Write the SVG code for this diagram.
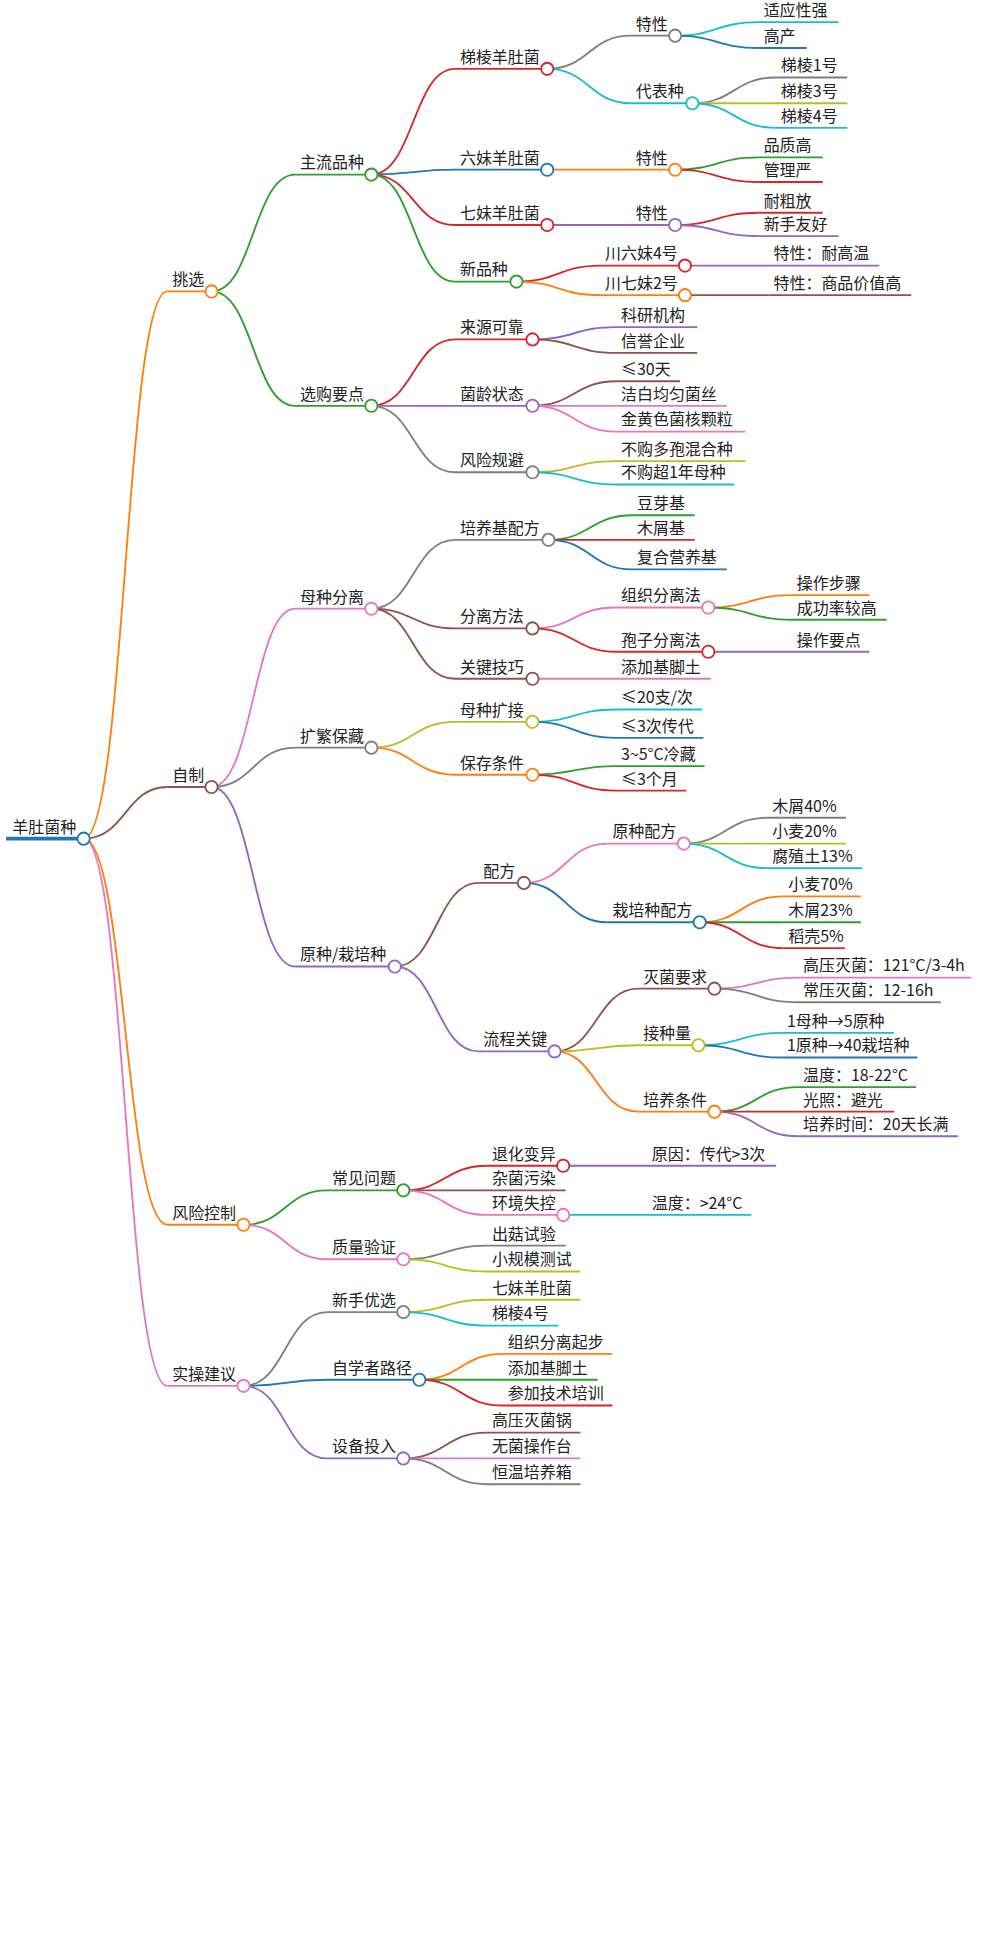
<svg xmlns="http://www.w3.org/2000/svg" width="984" height="1940" viewBox="0 0 984 1940">
<style>
text{font-family:"Noto Sans CJK SC","Noto Sans",sans-serif;font-size:13px;fill:#222}
path,line{fill:none;stroke-width:1.5}
circle{fill:#fff;stroke-width:1.5}
.c0{stroke:#1f77b4}.c1{stroke:#ff7f0e}.c2{stroke:#2ca02c}.c3{stroke:#d62728}.c4{stroke:#9467bd}.c5{stroke:#8c564b}.c6{stroke:#e377c2}.c7{stroke:#7f7f7f}.c8{stroke:#bcbd22}.c9{stroke:#17becf}
</style>
<rect width="984" height="1940" fill="#fff"/>
<g transform="scale(1.2297)">
<g id="connectors">
<path class="c1" d="M68 682C102 682 102 237 136 237"/>
<path class="c5" d="M68 682C102 682 102 640 136 640"/>
<path class="c1" d="M68 682C102 682 102 996 136 996"/>
<path class="c6" d="M68 682C102 682 102 1127 136 1127"/>
<path class="c2" d="M172 237C206 237 206 142 240 142"/>
<path class="c2" d="M172 237C206 237 206 330 240 330"/>
<path class="c6" d="M172 640C206 640 206 495 240 495"/>
<path class="c7" d="M172 640C206 640 206 608 240 608"/>
<path class="c4" d="M172 640C206 640 206 786 240 786"/>
<path class="c2" d="M198 996C232 996 232 968 266 968"/>
<path class="c6" d="M198 996C232 996 232 1024 266 1024"/>
<path class="c7" d="M198 1127C232 1127 232 1067 266 1067"/>
<path class="c0" d="M198 1127C232 1127 232 1122 266 1122"/>
<path class="c4" d="M198 1127C232 1127 232 1186 266 1186"/>
<path class="c3" d="M302 142C336 142 336 56 370 56"/>
<path class="c0" d="M302 142C336 142 336 138 370 138"/>
<path class="c3" d="M302 142C336 142 336 183 370 183"/>
<path class="c2" d="M302 142C336 142 336 229 370 229"/>
<path class="c3" d="M302 330C336 330 336 276 370 276"/>
<path class="c4" d="M302 330C336 330 336 330 370 330"/>
<path class="c7" d="M302 330C336 330 336 384 370 384"/>
<path class="c7" d="M302 495C336 495 336 439 370 439"/>
<path class="c5" d="M302 495C336 495 336 511 370 511"/>
<path class="c5" d="M302 495C336 495 336 552 370 552"/>
<path class="c8" d="M302 608C336 608 336 587 370 587"/>
<path class="c1" d="M302 608C336 608 336 630 370 630"/>
<path class="c5" d="M321 786C355 786 355 718 389 718"/>
<path class="c4" d="M321 786C355 786 355 855 389 855"/>
<path class="c3" d="M328 968C362 968 362 948 396 948"/>
<path class="c5" d="M328 968C362 968 362 968 396 968"/>
<path class="c6" d="M328 968C362 968 362 988 396 988"/>
<path class="c7" d="M328 1024C362 1024 362 1013 396 1013"/>
<path class="c8" d="M328 1024C362 1024 362 1034 396 1034"/>
<path class="c8" d="M328 1067C362 1067 362 1057 396 1057"/>
<path class="c9" d="M328 1067C362 1067 362 1078 396 1078"/>
<path class="c1" d="M341 1122C375 1122 375 1101 409 1101"/>
<path class="c2" d="M341 1122C375 1122 375 1122 409 1122"/>
<path class="c3" d="M341 1122C375 1122 375 1143 409 1143"/>
<path class="c5" d="M328 1186C362 1186 362 1165 396 1165"/>
<path class="c6" d="M328 1186C362 1186 362 1186 396 1186"/>
<path class="c7" d="M328 1186C362 1186 362 1207 396 1207"/>
<path class="c7" d="M445 56C479 56 479 29 513 29"/>
<path class="c9" d="M445 56C479 56 479 84 513 84"/>
<path class="c1" d="M445 138C479 138 479 138 513 138"/>
<path class="c4" d="M445 183C479 183 479 183 513 183"/>
<path class="c3" d="M420 229C454 229 454 216 488 216"/>
<path class="c1" d="M420 229C454 229 454 240 488 240"/>
<path class="c4" d="M433 276C467 276 467 266 501 266"/>
<path class="c5" d="M433 276C467 276 467 287 501 287"/>
<path class="c5" d="M433 330C467 330 467 310 501 310"/>
<path class="c6" d="M433 330C467 330 467 330 501 330"/>
<path class="c6" d="M433 330C467 330 467 351 501 351"/>
<path class="c8" d="M433 384C467 384 467 375 501 375"/>
<path class="c9" d="M433 384C467 384 467 394 501 394"/>
<path class="c2" d="M446 439C480 439 480 419 514 419"/>
<path class="c3" d="M446 439C480 439 480 439 514 439"/>
<path class="c0" d="M446 439C480 439 480 463 514 463"/>
<path class="c6" d="M433 511C467 511 467 494 501 494"/>
<path class="c3" d="M433 511C467 511 467 530 501 530"/>
<path class="c6" d="M433 552C467 552 467 552 501 552"/>
<path class="c9" d="M433 587C467 587 467 577 501 577"/>
<path class="c0" d="M433 587C467 587 467 600 501 600"/>
<path class="c2" d="M433 630C467 630 467 623 501 623"/>
<path class="c3" d="M433 630C467 630 467 643 501 643"/>
<path class="c6" d="M426 718C460 718 460 686 494 686"/>
<path class="c0" d="M426 718C460 718 460 750 494 750"/>
<path class="c5" d="M451 855C485 855 485 804 519 804"/>
<path class="c8" d="M451 855C485 855 485 850 519 850"/>
<path class="c1" d="M451 855C485 855 485 904 519 904"/>
<path class="c4" d="M458 948C492 948 492 948 526 948"/>
<path class="c9" d="M458 988C492 988 492 988 526 988"/>
<path class="c9" d="M549 29C583 29 583 18 617 18"/>
<path class="c0" d="M549 29C583 29 583 39 617 39"/>
<path class="c7" d="M563 84C597 84 597 63 631 63"/>
<path class="c8" d="M563 84C597 84 597 84 631 84"/>
<path class="c9" d="M563 84C597 84 597 104 631 104"/>
<path class="c2" d="M549 138C583 138 583 128 617 128"/>
<path class="c3" d="M549 138C583 138 583 148 617 148"/>
<path class="c3" d="M549 183C583 183 583 173 617 173"/>
<path class="c4" d="M549 183C583 183 583 192 617 192"/>
<path class="c4" d="M557 216C591 216 591 216 625 216"/>
<path class="c5" d="M557 240C591 240 591 240 625 240"/>
<path class="c1" d="M576 494C610 494 610 484 644 484"/>
<path class="c2" d="M576 494C610 494 610 504 644 504"/>
<path class="c4" d="M576 530C610 530 610 530 644 530"/>
<path class="c7" d="M556 686C590 686 590 665 624 665"/>
<path class="c8" d="M556 686C590 686 590 686 624 686"/>
<path class="c9" d="M556 686C590 686 590 706 624 706"/>
<path class="c1" d="M569 750C603 750 603 729 637 729"/>
<path class="c2" d="M569 750C603 750 603 750 637 750"/>
<path class="c3" d="M569 750C603 750 603 771 637 771"/>
<path class="c6" d="M581 804C615 804 615 795 649 795"/>
<path class="c7" d="M581 804C615 804 615 815 649 815"/>
<path class="c9" d="M568 850C602 850 602 840 636 840"/>
<path class="c0" d="M568 850C602 850 602 860 636 860"/>
<path class="c2" d="M581 904C615 904 615 884 649 884"/>
<path class="c3" d="M581 904C615 904 615 904 649 904"/>
<path class="c4" d="M581 904C615 904 615 924 649 924"/>
</g>
<g id="root"><line class="c0" style="stroke-width:3" x1="5" y1="682" x2="63" y2="682"/><text x="10" y="677">羊肚菌种</text><circle class="c0" cx="68" cy="682" r="5"/></g>
<g id="n1"><line class="c1" x1="136" y1="237" x2="167" y2="237"/><text x="140" y="232">挑选</text><circle class="c1" cx="172" cy="237" r="5"/></g>
<g id="n2"><line class="c5" x1="136" y1="640" x2="167" y2="640"/><text x="140" y="635">自制</text><circle class="c5" cx="172" cy="640" r="5"/></g>
<g id="n3"><line class="c1" x1="136" y1="996" x2="193" y2="996"/><text x="140" y="991">风险控制</text><circle class="c1" cx="198" cy="996" r="5"/></g>
<g id="n4"><line class="c6" x1="136" y1="1127" x2="193" y2="1127"/><text x="140" y="1122">实操建议</text><circle class="c6" cx="198" cy="1127" r="5"/></g>
<g id="n5"><line class="c2" x1="240" y1="142" x2="297" y2="142"/><text x="244" y="137">主流品种</text><circle class="c2" cx="302" cy="142" r="5"/></g>
<g id="n6"><line class="c2" x1="240" y1="330" x2="297" y2="330"/><text x="244" y="325">选购要点</text><circle class="c2" cx="302" cy="330" r="5"/></g>
<g id="n7"><line class="c6" x1="240" y1="495" x2="297" y2="495"/><text x="244" y="490">母种分离</text><circle class="c6" cx="302" cy="495" r="5"/></g>
<g id="n8"><line class="c7" x1="240" y1="608" x2="297" y2="608"/><text x="244" y="603">扩繁保藏</text><circle class="c7" cx="302" cy="608" r="5"/></g>
<g id="n9"><line class="c4" x1="240" y1="786" x2="316" y2="786"/><text x="244" y="781">原种/栽培种</text><circle class="c4" cx="321" cy="786" r="5"/></g>
<g id="n10"><line class="c2" x1="266" y1="968" x2="323" y2="968"/><text x="270" y="963">常见问题</text><circle class="c2" cx="328" cy="968" r="5"/></g>
<g id="n11"><line class="c6" x1="266" y1="1024" x2="323" y2="1024"/><text x="270" y="1019">质量验证</text><circle class="c6" cx="328" cy="1024" r="5"/></g>
<g id="n12"><line class="c7" x1="266" y1="1067" x2="323" y2="1067"/><text x="270" y="1062">新手优选</text><circle class="c7" cx="328" cy="1067" r="5"/></g>
<g id="n13"><line class="c0" x1="266" y1="1122" x2="336" y2="1122"/><text x="270" y="1117">自学者路径</text><circle class="c0" cx="341" cy="1122" r="5"/></g>
<g id="n14"><line class="c4" x1="266" y1="1186" x2="323" y2="1186"/><text x="270" y="1181">设备投入</text><circle class="c4" cx="328" cy="1186" r="5"/></g>
<g id="n15"><line class="c3" x1="370" y1="56" x2="440" y2="56"/><text x="374" y="51">梯棱羊肚菌</text><circle class="c3" cx="445" cy="56" r="5"/></g>
<g id="n16"><line class="c0" x1="370" y1="138" x2="440" y2="138"/><text x="374" y="133">六妹羊肚菌</text><circle class="c0" cx="445" cy="138" r="5"/></g>
<g id="n17"><line class="c3" x1="370" y1="183" x2="440" y2="183"/><text x="374" y="178">七妹羊肚菌</text><circle class="c3" cx="445" cy="183" r="5"/></g>
<g id="n18"><line class="c2" x1="370" y1="229" x2="415" y2="229"/><text x="374" y="224">新品种</text><circle class="c2" cx="420" cy="229" r="5"/></g>
<g id="n19"><line class="c3" x1="370" y1="276" x2="428" y2="276"/><text x="374" y="271">来源可靠</text><circle class="c3" cx="433" cy="276" r="5"/></g>
<g id="n20"><line class="c4" x1="370" y1="330" x2="428" y2="330"/><text x="374" y="325">菌龄状态</text><circle class="c4" cx="433" cy="330" r="5"/></g>
<g id="n21"><line class="c7" x1="370" y1="384" x2="428" y2="384"/><text x="374" y="379">风险规避</text><circle class="c7" cx="433" cy="384" r="5"/></g>
<g id="n22"><line class="c7" x1="370" y1="439" x2="441" y2="439"/><text x="374" y="434">培养基配方</text><circle class="c7" cx="446" cy="439" r="5"/></g>
<g id="n23"><line class="c5" x1="370" y1="511" x2="428" y2="511"/><text x="374" y="506">分离方法</text><circle class="c5" cx="433" cy="511" r="5"/></g>
<g id="n24"><line class="c5" x1="370" y1="552" x2="428" y2="552"/><text x="374" y="547">关键技巧</text><circle class="c5" cx="433" cy="552" r="5"/></g>
<g id="n25"><line class="c8" x1="370" y1="587" x2="428" y2="587"/><text x="374" y="582">母种扩接</text><circle class="c8" cx="433" cy="587" r="5"/></g>
<g id="n26"><line class="c1" x1="370" y1="630" x2="428" y2="630"/><text x="374" y="625">保存条件</text><circle class="c1" cx="433" cy="630" r="5"/></g>
<g id="n27"><line class="c5" x1="389" y1="718" x2="421" y2="718"/><text x="393" y="713">配方</text><circle class="c5" cx="426" cy="718" r="5"/></g>
<g id="n28"><line class="c4" x1="389" y1="855" x2="446" y2="855"/><text x="393" y="850">流程关键</text><circle class="c4" cx="451" cy="855" r="5"/></g>
<g id="n29"><line class="c3" x1="396" y1="948" x2="453" y2="948"/><text x="400" y="943">退化变异</text><circle class="c3" cx="458" cy="948" r="5"/></g>
<g id="n30"><line class="c5" x1="396" y1="968" x2="460" y2="968"/><text x="400" y="963">杂菌污染</text></g>
<g id="n31"><line class="c6" x1="396" y1="988" x2="453" y2="988"/><text x="400" y="983">环境失控</text><circle class="c6" cx="458" cy="988" r="5"/></g>
<g id="n32"><line class="c7" x1="396" y1="1013" x2="460" y2="1013"/><text x="400" y="1008">出菇试验</text></g>
<g id="n33"><line class="c8" x1="396" y1="1034" x2="472" y2="1034"/><text x="400" y="1029">小规模测试</text></g>
<g id="n34"><line class="c8" x1="396" y1="1057" x2="472" y2="1057"/><text x="400" y="1052">七妹羊肚菌</text></g>
<g id="n35"><line class="c9" x1="396" y1="1078" x2="454" y2="1078"/><text x="400" y="1073">梯棱4号</text></g>
<g id="n36"><line class="c1" x1="409" y1="1101" x2="498" y2="1101"/><text x="413" y="1096">组织分离起步</text></g>
<g id="n37"><line class="c2" x1="409" y1="1122" x2="486" y2="1122"/><text x="413" y="1117">添加基脚土</text></g>
<g id="n38"><line class="c3" x1="409" y1="1143" x2="498" y2="1143"/><text x="413" y="1138">参加技术培训</text></g>
<g id="n39"><line class="c5" x1="396" y1="1165" x2="472" y2="1165"/><text x="400" y="1160">高压灭菌锅</text></g>
<g id="n40"><line class="c6" x1="396" y1="1186" x2="472" y2="1186"/><text x="400" y="1181">无菌操作台</text></g>
<g id="n41"><line class="c7" x1="396" y1="1207" x2="472" y2="1207"/><text x="400" y="1202">恒温培养箱</text></g>
<g id="n42"><line class="c7" x1="513" y1="29" x2="544" y2="29"/><text x="517" y="24">特性</text><circle class="c7" cx="549" cy="29" r="5"/></g>
<g id="n43"><line class="c9" x1="513" y1="84" x2="558" y2="84"/><text x="517" y="79">代表种</text><circle class="c9" cx="563" cy="84" r="5"/></g>
<g id="n44"><line class="c1" x1="513" y1="138" x2="544" y2="138"/><text x="517" y="133">特性</text><circle class="c1" cx="549" cy="138" r="5"/></g>
<g id="n45"><line class="c4" x1="513" y1="183" x2="544" y2="183"/><text x="517" y="178">特性</text><circle class="c4" cx="549" cy="183" r="5"/></g>
<g id="n46"><line class="c3" x1="488" y1="216" x2="552" y2="216"/><text x="492" y="211">川六妹4号</text><circle class="c3" cx="557" cy="216" r="5"/></g>
<g id="n47"><line class="c1" x1="488" y1="240" x2="552" y2="240"/><text x="492" y="235">川七妹2号</text><circle class="c1" cx="557" cy="240" r="5"/></g>
<g id="n48"><line class="c4" x1="501" y1="266" x2="567" y2="266"/><text x="505" y="261">科研机构</text></g>
<g id="n49"><line class="c5" x1="501" y1="287" x2="567" y2="287"/><text x="505" y="282">信誉企业</text></g>
<g id="n50"><line class="c5" x1="501" y1="310" x2="553" y2="310"/><text x="505" y="305">≤30天</text></g>
<g id="n51"><line class="c6" x1="501" y1="330" x2="591" y2="330"/><text x="505" y="325">洁白均匀菌丝</text></g>
<g id="n52"><line class="c6" x1="501" y1="351" x2="606" y2="351"/><text x="505" y="346">金黄色菌核颗粒</text></g>
<g id="n53"><line class="c8" x1="501" y1="375" x2="606" y2="375"/><text x="505" y="370">不购多孢混合种</text></g>
<g id="n54"><line class="c9" x1="501" y1="394" x2="597" y2="394"/><text x="505" y="389">不购超1年母种</text></g>
<g id="n55"><line class="c2" x1="514" y1="419" x2="565" y2="419"/><text x="518" y="414">豆芽基</text></g>
<g id="n56"><line class="c3" x1="514" y1="439" x2="565" y2="439"/><text x="518" y="434">木屑基</text></g>
<g id="n57"><line class="c0" x1="514" y1="463" x2="591" y2="463"/><text x="518" y="458">复合营养基</text></g>
<g id="n58"><line class="c6" x1="501" y1="494" x2="571" y2="494"/><text x="505" y="489">组织分离法</text><circle class="c6" cx="576" cy="494" r="5"/></g>
<g id="n59"><line class="c3" x1="501" y1="530" x2="571" y2="530"/><text x="505" y="525">孢子分离法</text><circle class="c3" cx="576" cy="530" r="5"/></g>
<g id="n60"><line class="c6" x1="501" y1="552" x2="578" y2="552"/><text x="505" y="547">添加基脚土</text></g>
<g id="n61"><line class="c9" x1="501" y1="577" x2="571" y2="577"/><text x="505" y="572">≤20支/次</text></g>
<g id="n62"><line class="c0" x1="501" y1="600" x2="572" y2="600"/><text x="505" y="595">≤3次传代</text></g>
<g id="n63"><line class="c2" x1="501" y1="623" x2="573" y2="623"/><text x="505" y="618">3~5°C冷藏</text></g>
<g id="n64"><line class="c3" x1="501" y1="643" x2="558" y2="643"/><text x="505" y="638">≤3个月</text></g>
<g id="n65"><line class="c6" x1="494" y1="686" x2="551" y2="686"/><text x="498" y="681">原种配方</text><circle class="c6" cx="556" cy="686" r="5"/></g>
<g id="n66"><line class="c0" x1="494" y1="750" x2="564" y2="750"/><text x="498" y="745">栽培种配方</text><circle class="c0" cx="569" cy="750" r="5"/></g>
<g id="n67"><line class="c5" x1="519" y1="804" x2="576" y2="804"/><text x="523" y="799">灭菌要求</text><circle class="c5" cx="581" cy="804" r="5"/></g>
<g id="n68"><line class="c8" x1="519" y1="850" x2="563" y2="850"/><text x="523" y="845">接种量</text><circle class="c8" cx="568" cy="850" r="5"/></g>
<g id="n69"><line class="c1" x1="519" y1="904" x2="576" y2="904"/><text x="523" y="899">培养条件</text><circle class="c1" cx="581" cy="904" r="5"/></g>
<g id="n70"><line class="c4" x1="526" y1="948" x2="631" y2="948"/><text x="530" y="943">原因：传代&gt;3次</text></g>
<g id="n71"><line class="c9" x1="526" y1="988" x2="611" y2="988"/><text x="530" y="983">温度：&gt;24°C</text></g>
<g id="n72"><line class="c9" x1="617" y1="18" x2="682" y2="18"/><text x="621" y="13">适应性强</text></g>
<g id="n73"><line class="c0" x1="617" y1="39" x2="656" y2="39"/><text x="621" y="34">高产</text></g>
<g id="n74"><line class="c7" x1="631" y1="63" x2="689" y2="63"/><text x="635" y="58">梯棱1号</text></g>
<g id="n75"><line class="c8" x1="631" y1="84" x2="689" y2="84"/><text x="635" y="79">梯棱3号</text></g>
<g id="n76"><line class="c9" x1="631" y1="104" x2="689" y2="104"/><text x="635" y="99">梯棱4号</text></g>
<g id="n77"><line class="c2" x1="617" y1="128" x2="669" y2="128"/><text x="621" y="123">品质高</text></g>
<g id="n78"><line class="c3" x1="617" y1="148" x2="669" y2="148"/><text x="621" y="143">管理严</text></g>
<g id="n79"><line class="c3" x1="617" y1="173" x2="669" y2="173"/><text x="621" y="168">耐粗放</text></g>
<g id="n80"><line class="c4" x1="617" y1="192" x2="682" y2="192"/><text x="621" y="187">新手友好</text></g>
<g id="n81"><line class="c4" x1="625" y1="216" x2="715" y2="216"/><text x="629" y="211">特性：耐高温</text></g>
<g id="n82"><line class="c5" x1="625" y1="240" x2="741" y2="240"/><text x="629" y="235">特性：商品价值高</text></g>
<g id="n83"><line class="c1" x1="644" y1="484" x2="707" y2="484"/><text x="648" y="479">操作步骤</text></g>
<g id="n84"><line class="c2" x1="644" y1="504" x2="721" y2="504"/><text x="648" y="499">成功率较高</text></g>
<g id="n85"><line class="c4" x1="644" y1="530" x2="707" y2="530"/><text x="648" y="525">操作要点</text></g>
<g id="n86"><line class="c7" x1="624" y1="665" x2="688" y2="665"/><text x="628" y="660">木屑40%</text></g>
<g id="n87"><line class="c8" x1="624" y1="686" x2="688" y2="686"/><text x="628" y="681">小麦20%</text></g>
<g id="n88"><line class="c9" x1="624" y1="706" x2="701" y2="706"/><text x="628" y="701">腐殖土13%</text></g>
<g id="n89"><line class="c1" x1="637" y1="729" x2="700" y2="729"/><text x="641" y="724">小麦70%</text></g>
<g id="n90"><line class="c2" x1="637" y1="750" x2="700" y2="750"/><text x="641" y="745">木屑23%</text></g>
<g id="n91"><line class="c3" x1="637" y1="771" x2="687" y2="771"/><text x="641" y="766">稻壳5%</text></g>
<g id="n92"><line class="c6" x1="649" y1="795" x2="790" y2="795"/><text x="653" y="790">高压灭菌：121°C/3-4h</text></g>
<g id="n93"><line class="c7" x1="649" y1="815" x2="765" y2="815"/><text x="653" y="810">常压灭菌：12-16h</text></g>
<g id="n94"><line class="c9" x1="636" y1="840" x2="727" y2="840"/><text x="640" y="835">1母种→5原种</text></g>
<g id="n95"><line class="c0" x1="636" y1="860" x2="746" y2="860"/><text x="640" y="855">1原种→40栽培种</text></g>
<g id="n96"><line class="c2" x1="649" y1="884" x2="745" y2="884"/><text x="653" y="879">温度：18-22°C</text></g>
<g id="n97"><line class="c3" x1="649" y1="904" x2="727" y2="904"/><text x="653" y="899">光照：避光</text></g>
<g id="n98"><line class="c4" x1="649" y1="924" x2="779" y2="924"/><text x="653" y="919">培养时间：20天长满</text></g>
</g>
</svg>
